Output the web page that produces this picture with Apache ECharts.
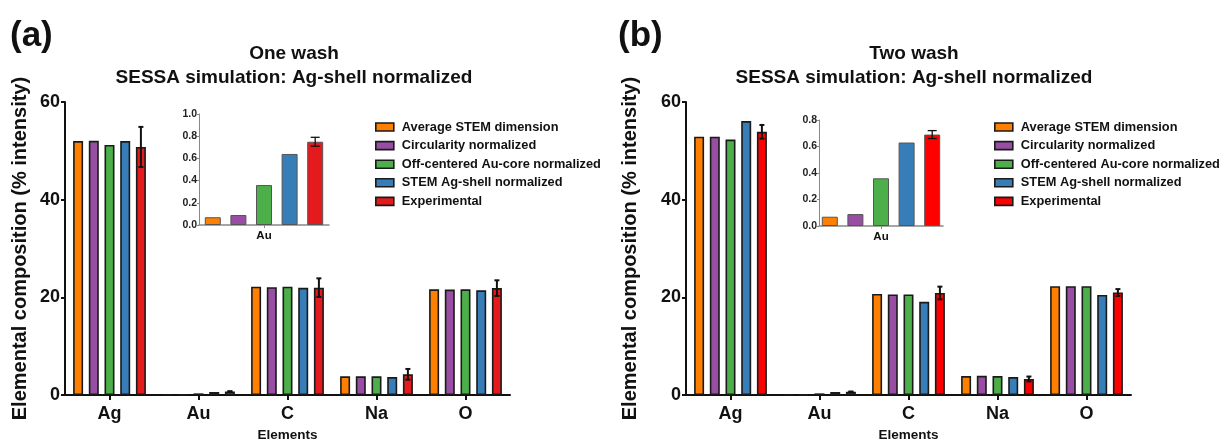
<!DOCTYPE html>
<html>
<head>
<meta charset="utf-8">
<script src="https://cdn.jsdelivr.net/npm/echarts@6/dist/echarts.min.js"></script>
<style>
  html, body { margin: 0; padding: 0; background: #fff; }
  #chart { width: 1226px; height: 447px; }
</style>
</head>
<body>
<div id="chart"></div>
<script>
// categories and legend names
const elements = ['Ag', 'Au', 'C', 'Na', 'O']
const seriesNames = [
    'Average STEM dimension',
    'Circularity normalized',
    'Off-centered Au-core normalized',
    'STEM Ag-shell normalized',
    'Experimental'
]

// (a) one wash, % intensity per element
const oneAvgStem = [52.0, 0.07, 22.2, 3.85, 21.65]
const oneCircularity = [52.05, 0.09, 22.1, 3.85, 21.6]
const oneOffCentered = [51.2, 0.36, 22.2, 3.85, 21.65]
const oneStemShell = [52.0, 0.64, 21.95, 3.7, 21.45]
const oneExperimental = [50.8, 0.75, 22.0, 4.25, 21.9]
const oneExperimentalErr = [4.1, 0.04, 1.9, 1.1, 1.6]

// (b) two wash
const twoAvgStem = [52.9, 0.07, 20.7, 3.9, 22.3]
const twoCircularity = [52.9, 0.09, 20.6, 3.95, 22.3]
const twoOffCentered = [52.3, 0.36, 20.6, 3.9, 22.3]
const twoStemShell = [56.1, 0.63, 19.1, 3.7, 20.5]
const twoExperimental = [53.9, 0.69, 20.9, 3.3, 21.0]
const twoExperimentalErr = [1.4, 0.03, 1.3, 0.5, 0.7]

const colorsA = ['#ff8000', '#984ea3', '#4daf4a', '#377eb8', '#e41a1c']
const colorsB = ['#ff8000', '#984ea3', '#4daf4a', '#377eb8', '#ff0000']
const FONT = '"Liberation Sans", Arial, sans-serif'

const chart = echarts.init(document.getElementById('chart'), null, { renderer: 'canvas' })

const mainBarW = 10
const mainGap = 0.57
const insetBarW = 16
const insetGap = 0.6

const mainY = (gi, nameGap) => ({
    type: 'value', gridIndex: gi, min: 0, max: 60, interval: 20,
    name: 'Elemental composition (% intensity)', nameLocation: 'middle', nameGap: nameGap,
    nameTextStyle: { fontFamily: FONT, fontWeight: 'bold', fontSize: 20, color: '#111' },
    axisLine: { show: true, lineStyle: { color: '#111', width: 2 } },
    axisTick: { show: true, length: 4, lineStyle: { color: '#111', width: 2 } },
    axisLabel: { fontFamily: FONT, fontWeight: 'bold', fontSize: 18, color: '#111', margin: 5 },
    splitLine: { show: false }
})
const mainX = (gi) => ({
    type: 'category', gridIndex: gi, data: elements,
    name: 'Elements', nameLocation: 'middle', nameGap: 32,
    nameTextStyle: { fontFamily: FONT, fontWeight: 'bold', fontSize: 13.5, color: '#111' },
    axisLine: { lineStyle: { color: '#111', width: 2 } },
    axisTick: { show: true, alignWithLabel: true, length: 5, lineStyle: { color: '#111', width: 2 } },
    axisLabel: { fontFamily: FONT, fontWeight: 'bold', fontSize: 18, color: '#111', margin: 10 }
})
const insetY = (gi, max) => ({
    type: 'value', gridIndex: gi, min: 0, max: max, interval: 0.2,
    axisLine: { show: true, lineStyle: { color: '#888', width: 1 } },
    axisTick: { show: true, length: 2, lineStyle: { color: '#888' } },
    axisLabel: { fontFamily: FONT, fontWeight: 'bold', fontSize: 10.5, color: '#222', margin: 2,
        formatter: (v) => v.toFixed(1) },
    splitLine: { show: false }
})
const insetX = (gi) => ({
    type: 'category', gridIndex: gi, data: ['Au'],
    axisLine: { lineStyle: { color: '#888', width: 1.5 } },
    axisTick: { show: true, alignWithLabel: true, length: 3, lineStyle: { color: '#888' } },
    axisLabel: { fontFamily: FONT, fontWeight: 'bold', fontSize: 11.5, color: '#111', margin: 5 }
})

const barSeries = (arrays, colors, gi, inset) => arrays.map((arr, k) => ({
    name: seriesNames[k], type: 'bar', xAxisIndex: gi, yAxisIndex: gi,
    data: inset ? [arr[1]] : arr,
    barWidth: inset ? insetBarW : mainBarW,
    barGap: ((inset ? insetGap : mainGap) * 100) + '%',
    itemStyle: { color: colors[k], borderColor: inset ? '#555' : '#1a1a1a', borderWidth: inset ? 1 : 1.6 },
    silent: true
}))

const errSeries = (vals, errs, gi, inset) => {
    const w = inset ? insetBarW : mainBarW
    const gap = inset ? insetGap : mainGap
    const offset = 2 * w * (1 + gap)
    const cap = inset ? 4.5 : 2.5
    const data = inset ? [[0, vals[1], errs[1]]] : vals.map((v, i) => [i, v, errs[i]])
    return {
        type: 'custom', xAxisIndex: gi, yAxisIndex: gi, z: 10, silent: true,
        data: data,
        renderItem: (params, api) => {
            const i = api.value(0), v = api.value(1), e = api.value(2)
            const c = api.coord([i, v])
            const x = c[0] + offset
            const yt = api.coord([i, v + e])[1]
            const yb = api.coord([i, Math.max(0, v - e)])[1]
            const st = { stroke: '#111', lineWidth: inset ? 1.3 : 2 }
            return {
                type: 'group',
                children: [
                    { type: 'line', shape: { x1: x, y1: yt, x2: x, y2: yb }, style: st },
                    { type: 'line', shape: { x1: x - cap, y1: yt, x2: x + cap, y2: yt }, style: st },
                    { type: 'line', shape: { x1: x - cap, y1: yb, x2: x + cap, y2: yb }, style: st }
                ]
            }
        }
    }
}

const legendFor = (left, colors) => ({
    left: left, top: 120, orient: 'vertical', icon: 'rect', padding: 0,
    itemWidth: 18, itemHeight: 8, itemGap: 4.6,
    selectedMode: false,
    textStyle: { fontFamily: FONT, fontWeight: 'bold', fontSize: 12.8, color: '#111', lineHeight: 14,
        padding: [0, 0, 0, 3] },
    data: seriesNames.map((n, k) => ({ name: n, itemStyle: { color: colors[k], borderColor: '#1a1a1a', borderWidth: 1.6 } }))
})

const titleFor = (left, text) => ({
    text: text + '\nSESSA simulation: Ag-shell normalized',
    left: left, top: 37, textAlign: 'center',
    textStyle: { fontFamily: FONT, fontWeight: 'bold', fontSize: 19, color: '#111', lineHeight: 24 }
})

const oneArrays = [oneAvgStem, oneCircularity, oneOffCentered, oneStemShell, oneExperimental]
const twoArrays = [twoAvgStem, twoCircularity, twoOffCentered, twoStemShell, twoExperimental]

const option = {
    animation: false,
    backgroundColor: '#fff',
    title: [titleFor(289, 'One wash'), titleFor(909, 'Two wash')],
    legend: [legendFor(375, colorsA), legendFor(994, colorsB)],
    grid: [
        { left: 65, top: 102, width: 445, height: 297 },
        { left: 199, top: 114, width: 130, height: 111 },
        { left: 686, top: 102, width: 445, height: 297 },
        { left: 819, top: 120, width: 124, height: 106 }
    ],
    xAxis: [mainX(0), insetX(1), mainX(2), insetX(3)],
    yAxis: [mainY(0, 35), insetY(1, 1.0), mainY(2, 46), insetY(3, 0.8)],
    graphic: [
        { type: 'text', left: 10, top: 19, style: { text: '(a)', fontFamily: FONT, fontWeight: 'bold', fontSize: 35, fill: '#111' } },
        { type: 'text', left: 618, top: 19, style: { text: '(b)', fontFamily: FONT, fontWeight: 'bold', fontSize: 35, fill: '#111' } }
    ],
    series: [
        ...barSeries(oneArrays, colorsA, 0, false),
        ...barSeries(oneArrays, colorsA, 1, true),
        ...barSeries(twoArrays, colorsB, 2, false),
        ...barSeries(twoArrays, colorsB, 3, true),
        errSeries(oneExperimental, oneExperimentalErr, 0, false),
        errSeries(oneExperimental, oneExperimentalErr, 1, true),
        errSeries(twoExperimental, twoExperimentalErr, 2, false),
        errSeries(twoExperimental, twoExperimentalErr, 3, true)
    ]
}

chart.setOption(option)
window.addEventListener('resize', () => chart.resize())
</script>
</body>
</html>
